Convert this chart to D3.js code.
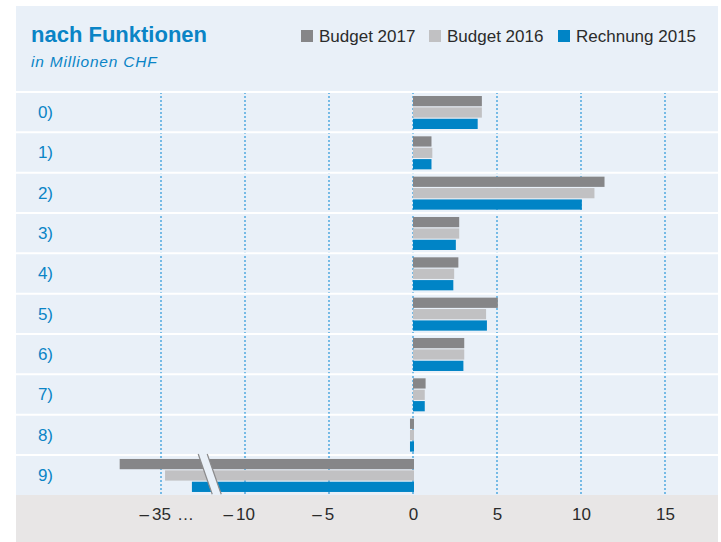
<!DOCTYPE html>
<html><head><meta charset="utf-8">
<script src="https://cdn.jsdelivr.net/npm/d3@7"></script>
<style>
html,body{margin:0;padding:0;background:#fff;}
svg{display:block;font-family:"Liberation Sans",Arial,sans-serif;}
</style></head>
<body><svg id="c" width="721" height="542"></svg>
<script>
const categories = ["0)","1)","2)","3)","4)","5)","6)","7)","8)","9)"];
const seriesNames = ["Budget 2017","Budget 2016","Rechnung 2015"];
const budget2017   = [4.1, 1.1, 11.4, 2.75, 2.7, 5.05, 3.05, 0.75, -0.12, -37.4];
const budget2016   = [4.1, 1.15, 10.8, 2.75, 2.45, 4.35, 3.05, 0.7, -0.12, -34.7];
const rechnung2015 = [3.85, 1.1, 10.05, 2.55, 2.4, 4.4, 3.0, 0.7, -0.12, -33.1];
const tickValues = [-35, -10, -5, 0, 5, 10, 15];
const tickLabels = ["35", "10", "5", "0", "5", "10", "15"];
const colors = ["#868688", "#c1c1c3", "#0084c6"];
const breakFrom = -12.5, breakGap = 20; // values below breakFrom are shifted by +20

const seriesValues = [budget2017, budget2016, rechnung2015];
const disp = v => v < breakFrom ? v + breakGap : v;

const svg = d3.select("#c");
const panelBg = "#e9f0f8";
svg.append("rect").attr("x",16).attr("y",6).attr("width",702).attr("height",489).attr("fill",panelBg);
svg.append("rect").attr("x",16).attr("y",495).attr("width",702).attr("height",47).attr("fill","#e8e6e6");

const x = d3.scaleLinear().domain([-15, 15]).range([161, 665]);
const y = d3.scaleBand().domain(categories).range([92, 495.3]).paddingInner(0);
const yi = d3.scaleBand().domain(seriesNames).range([4, 37]).paddingInner(0.1);

// gridlines
svg.append("g").selectAll("line").data(tickValues).join("line")
  .attr("x1", d => Math.round(x(disp(d)))).attr("x2", d => Math.round(x(disp(d))))
  .attr("y1", 92).attr("y2", 495)
  .attr("stroke", "#45a3de").attr("stroke-width", 1.4).attr("stroke-dasharray", "2,2");

// row separators
svg.append("g").selectAll("line").data(categories).join("line")
  .attr("x1", 16).attr("x2", 718)
  .attr("y1", d => y(d)).attr("y2", d => y(d))
  .attr("stroke", "#fff").attr("stroke-width", 2);

// bars
const gBars = svg.append("g");
seriesValues.forEach((vals, si) => {
  gBars.append("g").selectAll("rect").data(vals).join("rect")
    .attr("x", d => d < 0 ? x(disp(d)) - 1 : x(0))
    .attr("width", d => Math.abs(x(disp(d)) - x(0)) + (d < 0 ? 2 : 0))
    .attr("y", (d, i) => y(categories[i]) + yi(seriesNames[si]))
    .attr("height", yi.bandwidth())
    .attr("fill", colors[si]);
});

// axis break marker in last row
const bx = x(-12.1), rowTop = y(categories[9]), rowBot = rowTop + y.bandwidth();
const slope = 7, hw = 4.5;
svg.append("polygon")
  .attr("points", [[bx - slope - hw, rowTop - 1],[bx - slope + hw, rowTop - 1],[bx + slope + hw, rowBot - 1],[bx + slope - hw, rowBot - 1]].map(p => p.join(",")).join(" "))
  .attr("fill", panelBg);
[-hw, hw].forEach(o => {
  svg.append("line")
    .attr("x1", bx - slope + o).attr("y1", rowTop - 1)
    .attr("x2", bx + slope + o).attr("y2", rowBot - 1)
    .attr("stroke", "#8a8a8c").attr("stroke-width", 1.2);
});

// x axis
const xAxis = d3.axisBottom(x)
  .tickValues(tickValues.map(disp))
  .tickSize(0).tickPadding(0)
  .tickFormat((d, i) => tickLabels[i]);
const gx = svg.append("g").attr("transform", "translate(0,520)").call(xAxis);
gx.select(".domain").remove();
gx.selectAll("text").attr("dy", 0).attr("y", 0)
  .attr("font-size", 17).attr("fill", "#2b2b2b")
  .attr("font-family", "'Liberation Sans', Arial, sans-serif");
gx.selectAll(".tick").each(function(d, i) {
  const g = d3.select(this);
  const t = g.select("text");
  const w = t.node().getComputedTextLength();
  if (tickValues[i] < 0) {
    g.append("text").attr("x", -w/2 - 3).attr("y", 0)
      .attr("text-anchor", "end").attr("font-size", 17).attr("fill", "#2b2b2b")
      .text("–");
  }
  if (tickValues[i] < breakFrom) {
    g.append("text").attr("x", w/2 + 6).attr("y", 0)
      .attr("text-anchor", "start").attr("font-size", 17).attr("fill", "#2b2b2b")
      .text("…");
  }
});

// y axis labels
const yAxis = d3.axisLeft(y).tickSize(0).tickPadding(0);
const gy = svg.append("g").attr("transform", "translate(53,0)").call(yAxis);
gy.select(".domain").remove();
gy.selectAll("text").attr("font-size", 17).attr("fill", "#0a84c6")
  .attr("font-family", "'Liberation Sans', Arial, sans-serif").attr("dy", "0.35em");

// title
svg.append("text").attr("x", 31).attr("y", 42).attr("font-size", 22).attr("font-weight", "bold")
  .attr("fill", "#0a84c6").text("nach Funktionen");
svg.append("text").attr("x", 31).attr("y", 66.5).attr("font-size", 15.5).attr("font-style", "italic")
  .attr("letter-spacing", 0.8).attr("fill", "#0a84c6").text("in Millionen CHF");

// legend
const legendX = [301, 429, 558];
const lg = svg.append("g");
seriesNames.forEach((s, i) => {
  lg.append("rect").attr("x", legendX[i]).attr("y", 30).attr("width", 12).attr("height", 12).attr("fill", colors[i]);
  lg.append("text").attr("x", legendX[i] + 18).attr("y", 42).attr("font-size", 17)
    .attr("fill", "#2b2b2b").text(s);
});
</script></body></html>
